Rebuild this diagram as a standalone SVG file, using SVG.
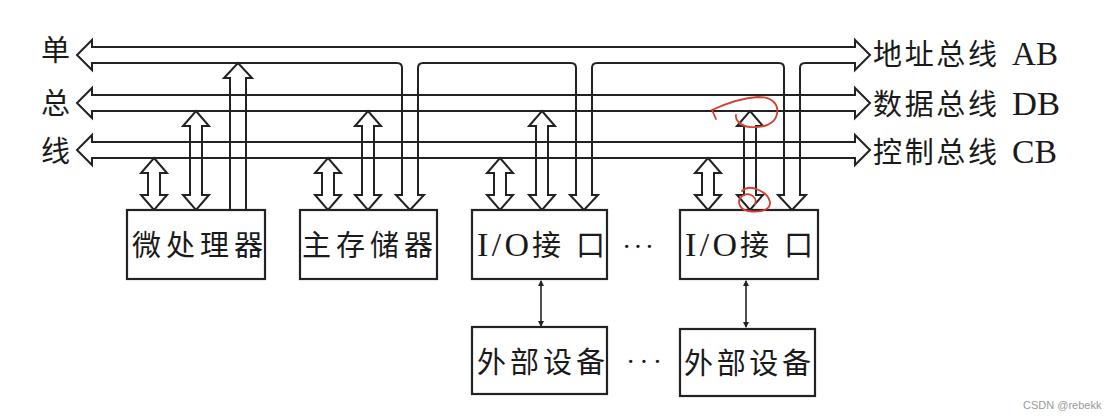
<svg xmlns="http://www.w3.org/2000/svg" width="1116" height="420" viewBox="0 0 1116 420">
<defs>
<style>
.ln{fill:none;stroke:#222;stroke-width:2;stroke-linejoin:miter}
.box{fill:#fff;stroke:#222;stroke-width:2.2}
.t{font-family:"Liberation Serif","Noto Sans CJK SC",serif;font-size:29px;fill:#1a1a1a}
.lat{font-size:34px}
.dots{font-family:"Liberation Serif",serif;font-size:28px;fill:#1a1a1a}
.red{fill:none;stroke:#d7402e;stroke-width:1.8;stroke-linecap:round}
.wm{font-family:"Liberation Sans",sans-serif;font-size:11px;fill:#9a9a9a}
</style>
<marker id="sm" viewBox="0 0 6 6" refX="5" refY="3" markerWidth="6" markerHeight="6" orient="auto-start-reverse" markerUnits="userSpaceOnUse">
<path d="M0,0 L6,3 L0,6 Z" fill="#222"/>
</marker>
</defs>
<rect width="1116" height="420" fill="#fff"/>

<g id="buses">
<path id="bus-ab" class="ln" d="M92,47 L855,47 L855,40 L870,55 L855,70 L855,63 L805,63 Q800,63 800,68 L800,195 L806,195 L792,210 L778,195 L784,195 L784,68 Q784,63 779,63 L597,63 Q592,63 592,68 L592,195 L598,195 L584,210 L570,195 L576,195 L576,68 Q576,63 571,63 L423,63 Q418,63 418,68 L418,195 L424,195 L410,210 L396,195 L402,195 L402,68 Q402,63 397,63 L92,63 L92,70 L77,55 L92,40 Z"/>
<path id="bus-db" class="ln" d="M92,95 L855,95 L855,88 L870,103 L855,118 L855,111 L92,111 L92,118 L77,103 L92,88 Z"/>
<path id="bus-cb" class="ln" d="M92,142 L855,142 L855,135 L870,150 L855,165 L855,158 L92,158 L92,165 L77,150 L92,135 Z"/>
<text class="t" x="41" y="61">单</text>
<text class="t" x="41" y="114">总</text>
<text class="t" x="41" y="162">线</text>
<text class="t" y="65"><tspan x="873" textLength="124" lengthAdjust="spacing">地址总线</tspan><tspan class="lat" x="1012" textLength="46" lengthAdjust="spacingAndGlyphs">AB</tspan></text>
<text class="t" y="115"><tspan x="873" textLength="124" lengthAdjust="spacing">数据总线</tspan><tspan class="lat" x="1012" textLength="48" lengthAdjust="spacingAndGlyphs">DB</tspan></text>
<text class="t" y="163"><tspan x="873" textLength="124" lengthAdjust="spacing">控制总线</tspan><tspan class="lat" x="1012" textLength="45" lengthAdjust="spacingAndGlyphs">CB</tspan></text>
</g>

<g id="connectors">
<!-- microprocessor -->
<path class="ln" d="M154,158 L167,173 L160,173 L160,195 L167,195 L154,210 L141,195 L148,195 L148,173 L141,173 Z"/>
<path class="ln" d="M196,111 L209,126 L202,126 L202,195 L209,195 L196,210 L183,195 L190,195 L190,126 L183,126 Z"/>
<path class="ln" d="M230,210 L230,78 L224,78 L238,63 L252,78 L246,78 L246,210"/>
<!-- memory -->
<path class="ln" d="M328,158 L341,173 L334,173 L334,195 L341,195 L328,210 L315,195 L322,195 L322,173 L315,173 Z"/>
<path class="ln" d="M368,111 L381,126 L374,126 L374,195 L381,195 L368,210 L355,195 L362,195 L362,126 L355,126 Z"/>
<!-- I/O 1 -->
<path class="ln" d="M500,158 L513,173 L506,173 L506,195 L513,195 L500,210 L487,195 L494,195 L494,173 L487,173 Z"/>
<path class="ln" d="M542,111 L555,126 L548,126 L548,195 L555,195 L542,210 L529,195 L536,195 L536,126 L529,126 Z"/>
<!-- I/O 2 -->
<path class="ln" d="M708,158 L721,173 L714,173 L714,195 L721,195 L708,210 L695,195 L702,195 L702,173 L695,173 Z"/>
<path class="ln" d="M750,111 L763,126 L756,126 L756,195 L763,195 L750,210 L737,195 L744,195 L744,126 L737,126 Z"/>
<!-- I/O to devices -->
<line x1="541" y1="281" x2="541" y2="326" stroke="#222" stroke-width="1.6" marker-start="url(#sm)" marker-end="url(#sm)"/>
<line x1="746" y1="281" x2="746" y2="327" stroke="#222" stroke-width="1.6" marker-start="url(#sm)" marker-end="url(#sm)"/>
</g>

<g id="micro">
<rect class="box" x="127" y="210" width="138" height="69"/>
<text class="t" x="132" y="256" textLength="131" lengthAdjust="spacing">微处理器</text>
</g>
<g id="memory">
<rect class="box" x="300" y="210" width="137" height="69"/>
<text class="t" x="302" y="256" textLength="131" lengthAdjust="spacing">主存储器</text>
</g>
<g id="io1">
<rect class="box" x="472" y="210" width="135" height="69"/>
<text class="t" y="256"><tspan class="lat" x="477" textLength="52" lengthAdjust="spacing">I/O</tspan><tspan x="532" textLength="73" lengthAdjust="spacing">接口</tspan></text>
</g>
<g id="io2">
<rect class="box" x="680" y="210" width="138" height="69"/>
<text class="t" y="256"><tspan class="lat" x="685" textLength="52" lengthAdjust="spacing">I/O</tspan><tspan x="740" textLength="73" lengthAdjust="spacing">接口</tspan></text>
</g>
<g id="dev1">
<rect class="box" x="472" y="327" width="135" height="67"/>
<text class="t" x="477" y="373" textLength="128" lengthAdjust="spacing">外部设备</text>
</g>
<g id="dev2">
<rect class="box" x="680" y="329" width="135" height="67"/>
<text class="t" x="684" y="374" textLength="127" lengthAdjust="spacing">外部设备</text>
</g>
<g id="ellipses">
<text class="dots" x="622" y="256" textLength="32" lengthAdjust="spacing">···</text>
<text class="dots" x="626" y="371" textLength="36" lengthAdjust="spacing">···</text>
</g>

<g id="annotations">
<path class="red" d="M716,119 L712,110 C725,104 740,98 758,97 C772,97 779,104 777,114 C775,124 764,128 750,127 C740,126 735,120 736,115"/>
<path class="red" d="M742,191 C750,183 768,192 770,202 C771,210 760,213 748,211 C738,209 736,199 744,195 C750,192 758,198 755,204"/>
</g>
<text class="wm" x="1023" y="409">CSDN @rebekk</text>
</svg>
